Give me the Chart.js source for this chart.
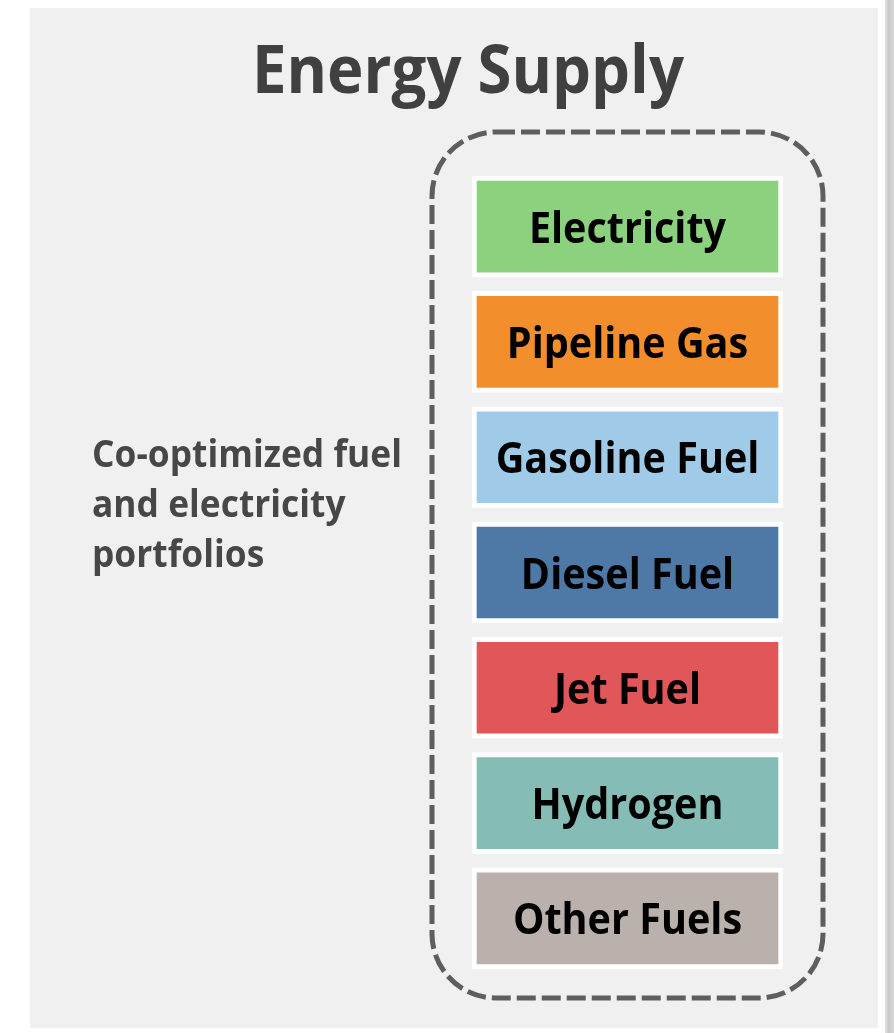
<!DOCTYPE html>
<html>
<head>
<meta charset="utf-8">
<title>Energy Supply</title>
<script src="https://cdn.jsdelivr.net/npm/chart.js@4/dist/chart.umd.min.js"></script>
<style>
  html, body { margin: 0; padding: 0; background: #ffffff; }
  canvas { display: block; }
</style>
</head>
<body>
<canvas id="supplyChart" width="894" height="1033"></canvas>
<script>
// diagram content
const titleText = 'Energy Supply';
const sideNote = ['Co-optimized fuel', 'and electricity', 'portfolios'];
const fuels = ['Electricity', 'Pipeline Gas', 'Gasoline Fuel', 'Diesel Fuel', 'Jet Fuel', 'Hydrogen', 'Other Fuels'];
const spans = [[0, 1], [0, 1], [0, 1], [0, 1], [0, 1], [0, 1], [0, 1]];
const fuelColors = ['#8cd17d', '#f28e2b', '#a0cbe8', '#4e79a7', '#e15759', '#86bcb6', '#bab0ac'];

const FONT = '"Open Sans", "Noto Sans", sans-serif';

function roundRect(ctx, x, y, w, h, r) {
    ctx.beginPath();
    ctx.moveTo(x + r, y);
    ctx.lineTo(x + w - r, y);
    ctx.arcTo(x + w, y, x + w, y + r, r);
    ctx.lineTo(x + w, y + h - r);
    ctx.arcTo(x + w, y + h, x + w - r, y + h, r);
    ctx.lineTo(x + r, y + h);
    ctx.arcTo(x, y + h, x, y + h - r, r);
    ctx.lineTo(x, y + r);
    ctx.arcTo(x, y, x + r, y, r);
    ctx.closePath();
}

// panel, title, side note and the dashed group outline
const backdrop = {
    id: 'backdrop',
    beforeDraw(chart) {
        const ctx = chart.ctx;
        ctx.save();
        ctx.fillStyle = '#ffffff';
        ctx.fillRect(0, 0, chart.width, chart.height);

        // shadow strip on the right
        const grad = ctx.createLinearGradient(885, 0, 894, 0);
        grad.addColorStop(0, '#e4e4e4');
        grad.addColorStop(0.4, '#c8c8c8');
        grad.addColorStop(1, '#d8d8d8');
        ctx.fillStyle = grad;
        ctx.fillRect(885, 0, 9, chart.height);

        ctx.fillStyle = '#f0f0f0';
        ctx.fillRect(30, 8, 848, 1020);

        // title
        ctx.fillStyle = '#404040';
        ctx.textAlign = 'center';
        ctx.textBaseline = 'alphabetic';
        ctx.font = 'bold 66px ' + FONT;
        const tw = ctx.measureText(titleText).width;
        ctx.save();
        ctx.translate(468, 93);
        ctx.scale(Math.min(1, 432 / tw), 1);
        ctx.fillText(titleText, 0, 0);
        ctx.restore();

        // side note
        ctx.fillStyle = '#474747';
        ctx.textAlign = 'left';
        ctx.font = 'bold 37px ' + FONT;
        let widest = 0;
        sideNote.forEach(function(line) {
            widest = Math.max(widest, ctx.measureText(line).width);
        });
        const sx = Math.min(1, 310 / widest);
        sideNote.forEach(function(line, i) {
            ctx.save();
            ctx.translate(92, 467 + i * 50);
            ctx.scale(sx, 1);
            ctx.fillText(line, 0, 0);
            ctx.restore();
        });

        // dashed rounded outline around the fuel boxes
        ctx.strokeStyle = '#5e5e5e';
        ctx.lineWidth = 5;
        ctx.setLineDash([19, 6]);
        roundRect(ctx, 432, 132, 391, 866, 64);
        ctx.stroke();
        ctx.restore();
    }
};

// fuel names centred in their boxes
const boxLabels = {
    id: 'boxLabels',
    afterDatasetsDraw(chart) {
        const ctx = chart.ctx;
        const meta = chart.getDatasetMeta(0);
        ctx.save();
        ctx.fillStyle = '#000000';
        ctx.textAlign = 'center';
        ctx.textBaseline = 'alphabetic';
        ctx.font = 'bold 43px ' + FONT;
        meta.data.forEach(function(bar, i) {
            const cx = (bar.x + bar.base) / 2;
            ctx.save();
            ctx.translate(cx, bar.y + 16);
            ctx.scale(0.92, 1);
            ctx.fillText(chart.data.labels[i], 0, 0);
            ctx.restore();
        });
        ctx.restore();
    }
};

function drawChart() {
    const ctx = document.getElementById('supplyChart').getContext('2d');
    new Chart(ctx, {
        type: 'bar',
        data: {
            labels: fuels,
            datasets: [{
                data: spans,
                backgroundColor: fuelColors,
                borderColor: '#ffffff',
                borderWidth: 5,
                borderSkipped: false,
                barThickness: 101
            }]
        },
        options: {
            indexAxis: 'y',
            responsive: false,
            animation: false,
            events: [],
            layout: {
                padding: { left: 472, right: 111, top: 169, bottom: 57 }
            },
            scales: {
                x: { display: false, min: 0, max: 1 },
                y: { display: false }
            },
            plugins: {
                legend: { display: false },
                title: { display: false },
                tooltip: { enabled: false }
            }
        },
        plugins: [backdrop, boxLabels]
    });
}

document.fonts.load('bold 43px "Open Sans"').then(drawChart, drawChart);
</script>
</body>
</html>
